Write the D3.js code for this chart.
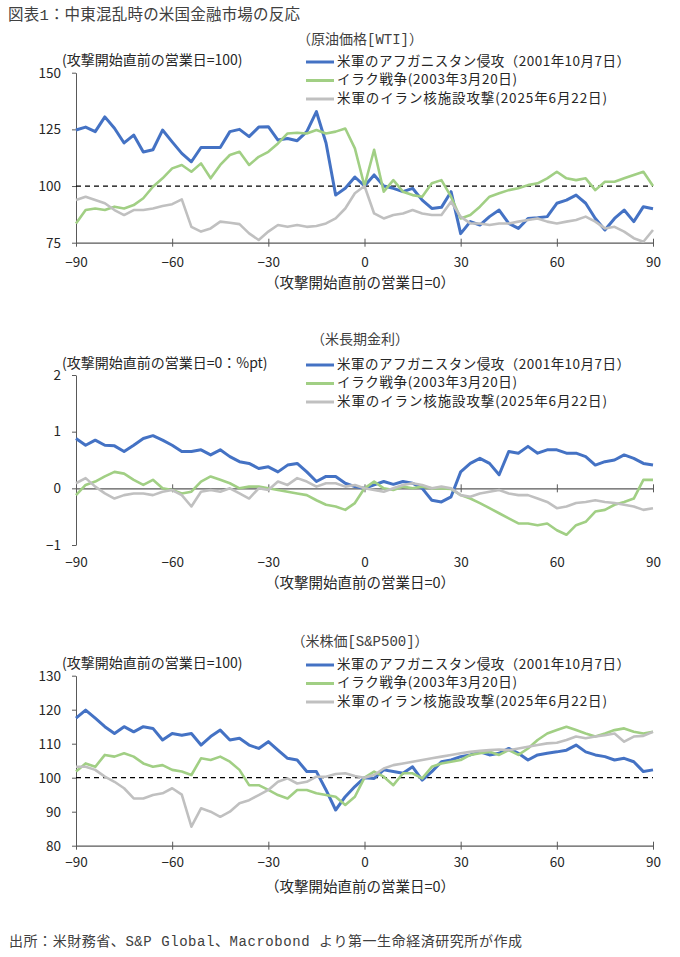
<!DOCTYPE html>
<html>
<head>
<meta charset="utf-8">
<script src="https://cdn.jsdelivr.net/npm/d3@7"></script>
<style>
  body { margin: 0; background: #fff; }
  svg { display: block; font-family: "Noto Sans CJK JP", "Noto Sans", sans-serif; }
  .serif { font-family: "Liberation Mono", "Noto Sans CJK JP", monospace; }
</style>
</head>
<body>
<div id="chart"></div>
<script>
// business days relative to the last day before the attack
var days = [-90, -87, -84, -81, -78, -75, -72, -69, -66, -63, -60, -57, -54, -51, -48, -45, -42, -39, -36, -33, -30,
  -27, -24, -21, -18, -15, -12, -9, -6, -3, 0, 3, 6, 9, 12, 15, 18, 21, 24, 27, 30,
  33, 36, 39, 42, 45, 48, 51, 54, 57, 60, 63, 66, 69, 72, 75, 78, 81, 84, 87, 90];
var xTicks = [-90, -60, -30, 0, 30, 60, 90];

var seriesNames = ['米軍のアフガニスタン侵攻（2001年10月7日）', 'イラク戦争(2003年3月20日)', '米軍のイラン核施設攻撃(2025年6月22日)'];
var seriesColors = ['#4472c4', '#a1cf84', '#c0c0c0'];

// crude oil (WTI), day before = 100
var oilAfghan = [124.7, 126, 124, 130.5, 125.5, 119, 122.5, 115, 116, 124.7, 119.5, 114.4, 110.7, 117, 117, 117, 124, 125, 121.8, 126, 126.2,
  120.3, 121, 120, 124, 132.8, 119, 96, 99, 104, 100, 104.9, 100, 99, 97.5, 99, 93.8, 90.1, 90.6, 97.5, 79,
  84.3, 82.8, 86.5, 89.4, 83.5, 81.3, 85.7, 86, 86.5, 92.4, 93.8, 96, 92.4, 85.7, 80.6, 85.7, 89.4, 84.3, 90.9, 90];
var oilIraq = [83.5, 89.4, 90.1, 89.4, 90.9, 90.1, 91.6, 94.6, 99.7, 103.4, 107.8, 109.3, 106.3, 110, 103.4, 109.3, 113.7, 115.1, 109.3, 112.9, 115.1,
  118.8, 123.2, 123.5, 123.2, 124.7, 123.2, 124, 125.4, 116.6, 100, 116, 97.5, 102.6, 97.5, 96, 95.3, 101.2, 102.6, 95.3, 85.7,
  87.2, 90.9, 95.3, 96.8, 98.2, 99, 100.4, 101.2, 103.4, 106.3, 103.4, 102.6, 103.4, 98.2, 101.9, 101.9, 103.4, 104.9, 106.3, 100];
var oilIran = [93.8, 95.3, 93.8, 92.4, 89.4, 87.2, 89.4, 89.4, 90.1, 91.2, 92, 94.1, 82, 79.9, 81.3, 84.3, 83.8, 83.2, 79.1, 76.2, 79.9,
  82.8, 82, 82.8, 82, 82.4, 83.5, 85.7, 90.1, 96.8, 100, 87.9, 85.7, 87.2, 87.9, 89.4, 87.9, 87.2, 87.2, 93.1, 86.5,
  83.5, 83.5, 82.8, 83.5, 83.5, 84.3, 85, 85.7, 84.3, 83.5, 84.3, 85, 86.5, 84.3, 81.3, 82, 79.9, 77, 75.4, 80.6];

// US long-term yield, change in %pt
var yieldAfghan = [0.88, 0.76, 0.85, 0.76, 0.75, 0.65, 0.76, 0.88, 0.93, 0.85, 0.76, 0.65, 0.65, 0.68, 0.59, 0.68, 0.56, 0.47, 0.44, 0.35, 0.38,
  0.29, 0.41, 0.44, 0.29, 0.12, 0.21, 0.21, 0.09, 0.03, 0, 0.06, 0.12, 0.07, 0.12, 0.09, 0, -0.21, -0.24, -0.15, 0.29,
  0.44, 0.53, 0.44, 0.24, 0.65, 0.62, 0.74, 0.62, 0.68, 0.68, 0.62, 0.62, 0.56, 0.41, 0.47, 0.5, 0.59, 0.53, 0.44, 0.41];
var yieldIraq = [-0.12, 0.06, 0.12, 0.21, 0.29, 0.26, 0.15, 0.06, 0.15, 0, -0.03, -0.09, -0.06, 0.12, 0.21, 0.15, 0.09, 0, 0.03, 0.03, 0,
  -0.03, -0.06, -0.09, -0.12, -0.21, -0.29, -0.32, -0.38, -0.26, 0, 0.12, 0, -0.03, 0.03, 0, 0.03, 0, 0, -0.01, -0.12,
  -0.18, -0.26, -0.35, -0.44, -0.53, -0.62, -0.62, -0.65, -0.62, -0.74, -0.82, -0.65, -0.59, -0.41, -0.38, -0.29, -0.24, -0.18, 0.15, 0.15];
var yieldIran = [0.09, 0.18, 0.03, -0.09, -0.18, -0.12, -0.09, -0.09, -0.12, -0.06, -0.03, -0.12, -0.32, -0.06, -0.03, -0.06, 0, -0.09, -0.18, 0, -0.03,
  0.12, 0.06, 0.18, 0.12, 0.03, 0.09, 0.09, 0.03, 0.06, 0, -0.03, -0.06, 0, 0.06, 0.09, 0.06, 0, 0.03, 0, -0.12,
  -0.15, -0.09, -0.06, -0.03, -0.09, -0.12, -0.12, -0.18, -0.24, -0.35, -0.32, -0.26, -0.24, -0.21, -0.24, -0.26, -0.29, -0.32, -0.38, -0.35];

// S&P500, day before = 100
var stockAfghan = [117.5, 119.9, 117.5, 115, 113, 115, 113.5, 115, 114.5, 111.1, 113, 112.5, 113, 109.6, 112.1, 114, 111.1, 111.6, 109.6, 108.6, 110.6,
  108.1, 105.7, 105.2, 101.8, 101.8, 96.4, 90.5, 94.4, 97.4, 100, 99.8, 102.3, 101.8, 101.3, 103.2, 99.3, 101.8, 104.7, 105.2, 106.2,
  106.7, 107.6, 106.7, 107.2, 108.6, 107.2, 105.2, 106.7, 107.2, 107.6, 108.1, 109.6, 107.6, 106.7, 106.2, 105.2, 105.7, 104.7, 101.8, 102.3];
var stockIraq = [101.8, 104.2, 103.2, 106.7, 106.2, 107.2, 106.2, 104.2, 103.2, 103.7, 102.3, 101.8, 100.8, 105.7, 105.2, 106.2, 104.7, 102.3, 97.8, 97.8, 96.4,
  94.9, 93.9, 96.4, 96.4, 95.4, 94.9, 94.4, 92, 94.4, 100, 101.8, 100.3, 97.8, 101.3, 101.3, 99.8, 103.2, 104.2, 104.7, 105.2,
  106.7, 107.2, 107.6, 106.7, 108.1, 106.7, 108.6, 111.1, 113, 114, 115, 114, 113, 112.1, 113, 114, 114.5, 113.5, 113, 113.5];
var stockIran = [103.2, 103.2, 102.3, 100.3, 98.8, 96.9, 93.9, 93.9, 94.9, 95.4, 96.9, 95, 85.6, 91, 90, 88.5, 90, 92.5, 93.4, 94.9, 96.4,
  98.8, 99.8, 98.3, 98.8, 100.3, 100.3, 101.1, 101.3, 100.5, 100, 100.8, 102.7, 103.7, 104.2, 104.7, 105.2, 105.7, 106.2, 106.7, 107.2,
  107.6, 107.9, 108.1, 108.3, 108.1, 108.6, 109.1, 109.6, 110.1, 110.3, 111.1, 112.1, 111.6, 112.1, 112.5, 113, 110.6, 112.1, 112.3, 113.5];

var width = 680,
  height = 957,
  axisColor = '#595959',
  textColor = '#262626',
  legendWidths = [293, 180, 270];

var svg = d3.select('#chart').append('svg')
  .attr('width', width)
  .attr('height', height);

svg.append('text')
  .attr('class', 'serif')
  .attr('x', 8)
  .attr('y', 20)
  .attr('font-size', 15.5)
  .attr('textLength', 292)
  .attr('lengthAdjust', 'spacing')
  .attr('fill', '#404040')
  .text('図表1：中東混乱時の米国金融市場の反応');

svg.append('text')
  .attr('class', 'serif')
  .attr('x', 9)
  .attr('y', 946)
  .attr('font-size', 14)
  .attr('textLength', 513)
  .attr('lengthAdjust', 'spacing')
  .attr('fill', '#404040')
  .text('出所：米財務省、S&P Global、Macrobond より第一生命経済研究所が作成');

var xScale = d3.scaleLinear().domain([-90, 90]).range([76, 653]);

var panels = [
  { title: '（原油価格[WTI]）', unit: '(攻撃開始直前の営業日=100)', domain: [75, 150], range: [242.7, 72.7],
    yTicks: [75, 100, 125, 150], axisAt: 75, dashAt: 100, top: 40, legendY: 62, tickY: 263, labelY: 284,
    series: [oilAfghan, oilIraq, oilIran] },
  { title: '（米長期金利）', unit: '(攻撃開始直前の営業日=0：%pt)', domain: [-1, 2], range: [545, 375],
    yTicks: [-1, 0, 1, 2], axisAt: 0, dashAt: null, top: 340, legendY: 365, tickY: 563, labelY: 584,
    series: [yieldAfghan, yieldIraq, yieldIran] },
  { title: '（米株価[S&P500]）', unit: '(攻撃開始直前の営業日=100)', domain: [80, 130], range: [845.7, 675.7],
    yTicks: [80, 90, 100, 110, 120, 130], axisAt: 80, dashAt: 100, top: 642, legendY: 665, tickY: 863, labelY: 888,
    series: [stockAfghan, stockIraq, stockIran] }
];

panels.forEach(function(p) {
  var yScale = d3.scaleLinear().domain(p.domain).range(p.range);
  var g = svg.append('g');

  g.append('text')
    .attr('class', 'serif')
    .attr('x', 360)
    .attr('y', p.top)
    .attr('text-anchor', 'middle')
    .attr('dominant-baseline', 'middle')
    .attr('font-size', 14)
    .attr('fill', '#404040')
    .text(p.title);

  g.append('text')
    .attr('x', 62)
    .attr('y', p.legendY - 1)
    .attr('dominant-baseline', 'middle')
    .attr('font-size', 14)
    .attr('fill', textColor)
    .text(p.unit);

  // legend
  seriesNames.forEach(function(name, i) {
    var ly = p.legendY + i * 18.5;
    g.append('line')
      .attr('x1', 306).attr('x2', 334)
      .attr('y1', ly).attr('y2', ly)
      .attr('stroke', seriesColors[i])
      .attr('stroke-width', 3);
    g.append('text')
      .attr('x', 337)
      .attr('y', ly)
      .attr('dominant-baseline', 'middle')
      .attr('font-size', 13.5)
      .attr('textLength', legendWidths[i])
      .attr('lengthAdjust', 'spacing')
      .attr('fill', textColor)
      .text(name);
  });

  // y axis
  var yAxis = d3.axisLeft(yScale)
    .tickValues(p.yTicks)
    .tickSizeInner(4)
    .tickSizeOuter(0)
    .tickPadding(11)
    .tickFormat(d3.format('d'));
  var yAxisG = g.append('g')
    .attr('transform', 'translate(' + xScale(-90) + ',0)')
    .call(yAxis);
  yAxisG.selectAll('path, line').attr('stroke', axisColor);
  yAxisG.selectAll('text')
    .attr('font-size', 13.5)
    .attr('font-family', '"Noto Sans CJK JP", sans-serif')
    .attr('fill', textColor);

  // x axis with crossing ticks, labels kept at the bottom of the panel
  var axisY = yScale(p.axisAt);
  var xAxis = d3.axisBottom(xScale)
    .tickValues(xTicks)
    .tickSizeOuter(0);
  var xAxisG = g.append('g')
    .attr('transform', 'translate(0,' + axisY + ')')
    .call(xAxis);
  xAxisG.select('.domain').attr('stroke', axisColor).attr('stroke-width', 1.2);
  xAxisG.selectAll('.tick line')
    .attr('y1', -4).attr('y2', 4)
    .attr('stroke', axisColor);
  xAxisG.selectAll('.tick text')
    .attr('y', p.tickY - axisY)
    .attr('dy', '0.32em')
    .attr('font-size', 13.5)
    .attr('font-family', '"Noto Sans CJK JP", sans-serif')
    .attr('fill', textColor);

  g.append('text')
    .attr('x', 360)
    .attr('y', p.labelY)
    .attr('text-anchor', 'middle')
    .attr('dominant-baseline', 'middle')
    .attr('font-size', 14.5)
    .attr('fill', textColor)
    .text('（攻撃開始直前の営業日=0）');

  if (p.dashAt !== null) {
    g.append('line')
      .attr('x1', xScale(-90)).attr('x2', xScale(90))
      .attr('y1', yScale(p.dashAt)).attr('y2', yScale(p.dashAt))
      .attr('stroke', '#000')
      .attr('stroke-width', 1.3)
      .attr('stroke-dasharray', '5,4');
  }

  var line = d3.line()
    .x(function(d, i) { return xScale(days[i]); })
    .y(function(d) { return yScale(d); });

  p.series.forEach(function(values, i) {
    g.append('path')
      .datum(values)
      .attr('fill', 'none')
      .attr('stroke', seriesColors[i])
      .attr('stroke-width', i === 0 ? 3 : 2.6)
      .attr('stroke-linejoin', 'round')
      .attr('d', line);
  });
});
</script>
</body>
</html>
